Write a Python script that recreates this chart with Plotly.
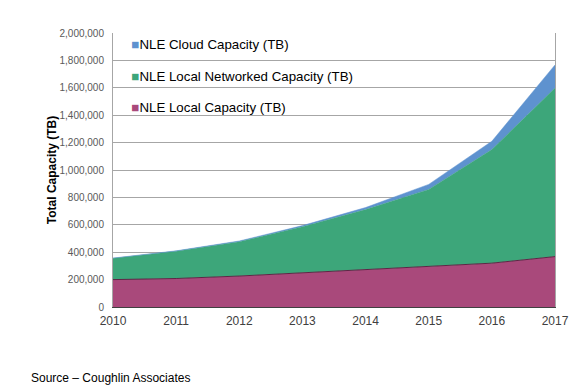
import plotly.graph_objects as go

years = [2010, 2011, 2012, 2013, 2014, 2015, 2016, 2017]
local = [200000, 208000, 226000, 250000, 275000, 295000, 320000, 368000]
networked = [155000, 199000, 251000, 336000, 436000, 563000, 829000, 1230000]
cloud = [2000, 3000, 5000, 8000, 15000, 37000, 61000, 169000]

names = ["NLE Local Capacity (TB)", "NLE Local Networked Capacity (TB)", "NLE Cloud Capacity (TB)"]
colors = ["#A9497B", "#3DA67A", "#5E92CF"]
edges = ["#5e2545", "#3DA67A", "#5E92CF"]
series = [local, networked, cloud]

y_ticks = list(range(0, 2000001, 200000))
y_tick_text = [f"{v:,}" for v in y_ticks]

fig = go.Figure()
for name, col, edge, vals in zip(names, colors, edges, series):
    fig.add_trace(go.Scatter(x=years, y=vals, name=name, stackgroup="one", mode="lines",
                             line=dict(color=edge, width=1 if edge != col else 0.5),
                             fillcolor=col, showlegend=False))
# legend entries, top to bottom: Cloud, Networked, Local
for i, (name, col) in enumerate(zip(names[::-1], colors[::-1])):
    fig.add_trace(go.Scatter(x=[None], y=[None], mode="markers",
                             marker=dict(size=1, color="rgba(0,0,0,0)"),
                             name=f"<span style='color:{col}'>■</span>{name}",
                             legendgroup=f"g{i}", showlegend=True))

fig.update_layout(
    width=573, height=380,
    margin=dict(l=105, r=24, t=25, b=81),
    paper_bgcolor="white", plot_bgcolor="white",
    font=dict(family="Liberation Sans, Arial, sans-serif", color="#404040"),
    showlegend=True,
    legend=dict(x=-0.049, y=1.015, xanchor="left", yanchor="top", traceorder="grouped",
                bgcolor="rgba(0,0,0,0)", font=dict(size=13.3, color="#000000"),
                itemwidth=30, tracegroupgap=11),
    xaxis=dict(range=[2010, 2017], tickvals=years, ticktext=[str(y) for y in years],
               showgrid=False, showline=True, linecolor="#404040", linewidth=1,
               mirror=False, ticks="", tickfont=dict(size=12, color="#404040"), zeroline=False,
               ticklabelstandoff=3),
    yaxis=dict(range=[0, 2000000], tickvals=y_ticks, ticktext=y_tick_text,
               showgrid=True, gridcolor="#a6a6a6", gridwidth=1,
               showline=True, linecolor="#a6a6a6", linewidth=1, mirror=True,
               ticks="", tickfont=dict(size=10, color="#595959"), zeroline=False,
               ticklabelstandoff=6,
               title=dict(text="<b>Total Capacity (TB)</b>", font=dict(size=12, color="#000000"), standoff=0)),
    annotations=[dict(text="Source – Coughlin Associates", xref="paper", yref="paper",
                      x=-0.191, y=-0.259, xanchor="left", yanchor="middle", showarrow=False,
                      font=dict(size=12, color="#000000"))],
)
fig.write_html("out.html")
